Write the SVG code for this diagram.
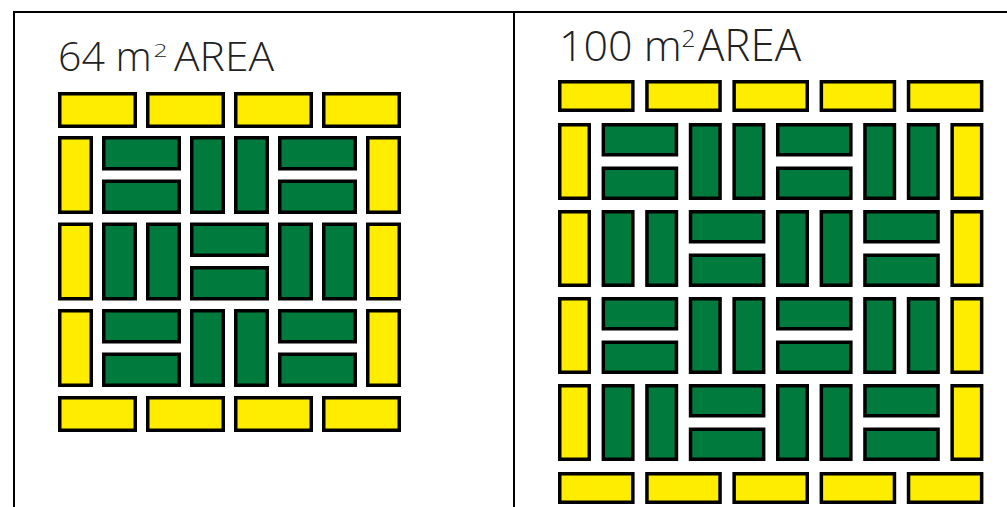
<svg xmlns="http://www.w3.org/2000/svg" width="1007" height="507" viewBox="0 0 1007 507">
<style>
.y{fill:#FFED00;stroke:#000;stroke-width:3.5}
.g{fill:#007A3D;stroke:#000;stroke-width:3.5}
.t{font-family:"Open Sans","Liberation Sans",sans-serif;font-weight:300;fill:#222}
.ln{stroke:#000;stroke-width:2;fill:none}
</style>
<rect width="1007" height="507" fill="#fff"/>
<g id="frame">
<path class="ln" d="M14,507 V12 H1007 M514,12 V507"/>
</g>
<g id="panel-64">
<text class="t" font-size="41"><tspan x="58" y="70.5">64 m</tspan><tspan x="153.5" y="57" font-size="18" textLength="14" lengthAdjust="spacingAndGlyphs">2</tspan><tspan x="174" y="70.5" textLength="100" lengthAdjust="spacingAndGlyphs">AREA</tspan></text>
<g id="left-border">
<rect class="y" x="59.75" y="93.75" width="75.5" height="32.5"/>
<rect class="y" x="147.75" y="93.75" width="75.5" height="32.5"/>
<rect class="y" x="235.75" y="93.75" width="75.5" height="32.5"/>
<rect class="y" x="323.75" y="93.75" width="75.5" height="32.5"/>
<rect class="y" x="59.75" y="397.75" width="75.5" height="32.5"/>
<rect class="y" x="147.75" y="397.75" width="75.5" height="32.5"/>
<rect class="y" x="235.75" y="397.75" width="75.5" height="32.5"/>
<rect class="y" x="323.75" y="397.75" width="75.5" height="32.5"/>
<rect class="y" x="59.75" y="137.75" width="31.5" height="74.5"/>
<rect class="y" x="59.75" y="224.25" width="31.5" height="74.5"/>
<rect class="y" x="59.75" y="310.75" width="31.5" height="74.5"/>
<rect class="y" x="367.75" y="137.75" width="31.5" height="74.5"/>
<rect class="y" x="367.75" y="224.25" width="31.5" height="74.5"/>
<rect class="y" x="367.75" y="310.75" width="31.5" height="74.5"/>
</g>
<g id="left-row1">
<rect class="g" x="103.75" y="137.75" width="75.5" height="31"/>
<rect class="g" x="103.75" y="181.25" width="75.5" height="31"/>
<rect class="g" x="191.75" y="137.75" width="31.5" height="74.5"/>
<rect class="g" x="235.75" y="137.75" width="31.5" height="74.5"/>
<rect class="g" x="279.75" y="137.75" width="75.5" height="31"/>
<rect class="g" x="279.75" y="181.25" width="75.5" height="31"/>
</g>
<g id="left-row2">
<rect class="g" x="103.75" y="224.25" width="31.5" height="74.5"/>
<rect class="g" x="147.75" y="224.25" width="31.5" height="74.5"/>
<rect class="g" x="191.75" y="224.25" width="75.5" height="31"/>
<rect class="g" x="191.75" y="267.75" width="75.5" height="31"/>
<rect class="g" x="279.75" y="224.25" width="31.5" height="74.5"/>
<rect class="g" x="323.75" y="224.25" width="31.5" height="74.5"/>
</g>
<g id="left-row3">
<rect class="g" x="103.75" y="310.75" width="75.5" height="31"/>
<rect class="g" x="103.75" y="354.25" width="75.5" height="31"/>
<rect class="g" x="191.75" y="310.75" width="31.5" height="74.5"/>
<rect class="g" x="235.75" y="310.75" width="31.5" height="74.5"/>
<rect class="g" x="279.75" y="310.75" width="75.5" height="31"/>
<rect class="g" x="279.75" y="354.25" width="75.5" height="31"/>
</g>
</g>
<g id="panel-100">
<text class="t" font-size="43"><tspan x="559" y="60.5">100 m</tspan><tspan x="681.5" y="46.5" font-size="23" textLength="14" lengthAdjust="spacingAndGlyphs">2</tspan><tspan x="698" y="60.5" font-size="45" textLength="103" lengthAdjust="spacingAndGlyphs">AREA</tspan></text>
<g id="right-border">
<rect class="y" x="559.75" y="81.75" width="73.1" height="28.5"/>
<rect class="y" x="646.95" y="81.75" width="73.1" height="28.5"/>
<rect class="y" x="734.15" y="81.75" width="73.1" height="28.5"/>
<rect class="y" x="821.35" y="81.75" width="73.1" height="28.5"/>
<rect class="y" x="908.55" y="81.75" width="73.1" height="28.5"/>
<rect class="y" x="559.75" y="473.75" width="73.1" height="28.5"/>
<rect class="y" x="646.95" y="473.75" width="73.1" height="28.5"/>
<rect class="y" x="734.15" y="473.75" width="73.1" height="28.5"/>
<rect class="y" x="821.35" y="473.75" width="73.1" height="28.5"/>
<rect class="y" x="908.55" y="473.75" width="73.1" height="28.5"/>
<rect class="y" x="559.75" y="124.75" width="29.5" height="73.5"/>
<rect class="y" x="559.75" y="211.75" width="29.5" height="73.5"/>
<rect class="y" x="559.75" y="298.75" width="29.5" height="73.5"/>
<rect class="y" x="559.75" y="385.75" width="29.5" height="73.5"/>
<rect class="y" x="952.15" y="124.75" width="29.5" height="73.5"/>
<rect class="y" x="952.15" y="211.75" width="29.5" height="73.5"/>
<rect class="y" x="952.15" y="298.75" width="29.5" height="73.5"/>
<rect class="y" x="952.15" y="385.75" width="29.5" height="73.5"/>
</g>
<g id="right-row1">
<rect class="g" x="603.35" y="124.75" width="73.1" height="30"/>
<rect class="g" x="603.35" y="168.25" width="73.1" height="30"/>
<rect class="g" x="690.55" y="124.75" width="29.5" height="73.5"/>
<rect class="g" x="734.15" y="124.75" width="29.5" height="73.5"/>
<rect class="g" x="777.75" y="124.75" width="73.1" height="30"/>
<rect class="g" x="777.75" y="168.25" width="73.1" height="30"/>
<rect class="g" x="864.95" y="124.75" width="29.5" height="73.5"/>
<rect class="g" x="908.55" y="124.75" width="29.5" height="73.5"/>
</g>
<g id="right-row2">
<rect class="g" x="603.35" y="211.75" width="29.5" height="73.5"/>
<rect class="g" x="646.95" y="211.75" width="29.5" height="73.5"/>
<rect class="g" x="690.55" y="211.75" width="73.1" height="30"/>
<rect class="g" x="690.55" y="255.25" width="73.1" height="30"/>
<rect class="g" x="777.75" y="211.75" width="29.5" height="73.5"/>
<rect class="g" x="821.35" y="211.75" width="29.5" height="73.5"/>
<rect class="g" x="864.95" y="211.75" width="73.1" height="30"/>
<rect class="g" x="864.95" y="255.25" width="73.1" height="30"/>
</g>
<g id="right-row3">
<rect class="g" x="603.35" y="298.75" width="73.1" height="30"/>
<rect class="g" x="603.35" y="342.25" width="73.1" height="30"/>
<rect class="g" x="690.55" y="298.75" width="29.5" height="73.5"/>
<rect class="g" x="734.15" y="298.75" width="29.5" height="73.5"/>
<rect class="g" x="777.75" y="298.75" width="73.1" height="30"/>
<rect class="g" x="777.75" y="342.25" width="73.1" height="30"/>
<rect class="g" x="864.95" y="298.75" width="29.5" height="73.5"/>
<rect class="g" x="908.55" y="298.75" width="29.5" height="73.5"/>
</g>
<g id="right-row4">
<rect class="g" x="603.35" y="385.75" width="29.5" height="73.5"/>
<rect class="g" x="646.95" y="385.75" width="29.5" height="73.5"/>
<rect class="g" x="690.55" y="385.75" width="73.1" height="30"/>
<rect class="g" x="690.55" y="429.25" width="73.1" height="30"/>
<rect class="g" x="777.75" y="385.75" width="29.5" height="73.5"/>
<rect class="g" x="821.35" y="385.75" width="29.5" height="73.5"/>
<rect class="g" x="864.95" y="385.75" width="73.1" height="30"/>
<rect class="g" x="864.95" y="429.25" width="73.1" height="30"/>
</g>
</g>
</svg>
